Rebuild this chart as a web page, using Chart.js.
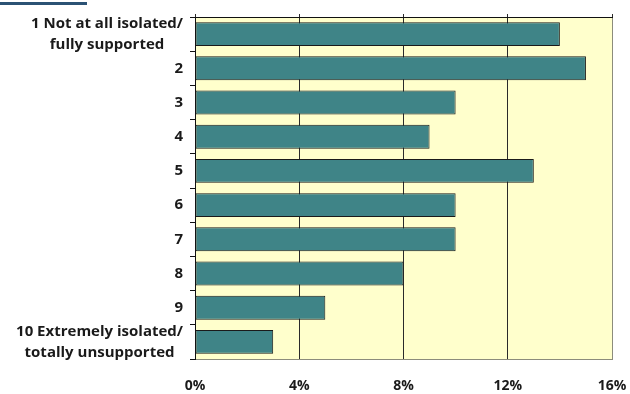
<!DOCTYPE html>
<html>
<head>
<meta charset="utf-8">
<script src="https://cdn.jsdelivr.net/npm/chart.js@4/dist/chart.umd.min.js"></script>
<style>
  html, body { margin: 0; padding: 0; background: #fff; }
  #wrap { position: relative; width: 630px; height: 394px; }
  #rule { position: absolute; left: 0; top: 2px; width: 87px; height: 3px; background: #2b5274; }
</style>
</head>
<body>
<div id="wrap">
  <div id="rule"></div>
  <canvas id="c" width="630" height="394"></canvas>
</div>
<script>
// Scale points: 1 = not isolated ... 10 = extremely isolated
const categories = [
  ["1 Not at all isolated/", "fully supported"],
  ["2"], ["3"], ["4"], ["5"], ["6"], ["7"], ["8"], ["9"],
  ["10 Extremely isolated/", "totally unsupported"]
];
const shares = [14, 15, 10, 9, 13, 10, 10, 8, 5, 3];   // % of respondents
const xTicks = [0, 4, 8, 12, 16];

const FONT = "'Open Sans', Lato, sans-serif";
const BAR = "#3f8487";
const PLOT_BG = "#ffffcc";

// Yellow plot background behind the grid.
const plotBg = {
  id: "plotBg",
  beforeDraw(chart) {
    const { ctx, chartArea: a } = chart;
    ctx.save();
    ctx.fillStyle = PLOT_BG;
    ctx.fillRect(a.left, a.top, a.right - a.left, a.bottom - a.top);
    ctx.restore();
  }
};

// Category labels: each block right-aligned to the axis, its lines centred within it.
const catLabels = {
  id: "catLabels",
  afterDraw(chart) {
    const { ctx } = chart;
    const y = chart.scales.y;
    const lineH = 21;
    const right = y.right - 12;
    ctx.save();
    ctx.font = "bold 15px " + FONT;
    ctx.fillStyle = "#1a1a1a";
    ctx.textAlign = "center";
    ctx.textBaseline = "middle";
    categories.forEach((lines, i) => {
      const cy = y.getPixelForTick(i);
      const w = Math.max(...lines.map(l => ctx.measureText(l).width));
      const cx = right - w / 2;
      const y0 = cy - (lines.length - 1) * lineH / 2;
      lines.forEach((l, j) => ctx.fillText(l, cx, y0 + j * lineH));
    });
    ctx.restore();
  }
};

new Chart(document.getElementById("c"), {
  type: "bar",
  data: {
    labels: categories,
    datasets: [{
      data: shares,
      backgroundColor: BAR,
      borderColor: "#1a1a1a",
      borderWidth: 1,
      borderSkipped: false,
      categoryPercentage: 1,
      barPercentage: 0.7
    }]
  },
  options: {
    indexAxis: "y",
    responsive: false,
    animation: false,
    layout: { padding: { left: 0, right: 18, top: 0, bottom: 0 } },
    plugins: { legend: { display: false }, tooltip: { enabled: false } },
    scales: {
      x: {
        position: "bottom",
        min: 0, max: 16,
        afterBuildTicks: s => { s.ticks = xTicks.map(v => ({ value: v })); },
        afterFit: s => { s.height = 35; },
        ticks: {
          callback: v => v + "%",
          color: "#1a1a1a",
          font: { family: FONT, size: 14, weight: "bold" },
          padding: 0,
          maxRotation: 0
        },
        grid: {
          // invisible tick marks act as the gap between axis and labels
          tickLength: 19,
          tickColor: "rgba(0,0,0,0)",
          color: c => c.tick && c.tick.value === 16 ? "#8c8c7c" : "#2a2a2a",
          lineWidth: 1
        },
        border: { color: "#8c8c7c", width: 1 }
      },
      x2: {
        position: "top",
        min: 0, max: 16,
        afterBuildTicks: s => { s.ticks = xTicks.map(v => ({ value: v })); },
        afterFit: s => { s.height = 17; },
        ticks: { display: false },
        grid: { drawOnChartArea: false, tickLength: 3, color: "#2a2a2a" },
        border: { color: "#111", width: 1 }
      },
      y: {
        afterFit: s => { s.width = 195; },
        ticks: { display: false },
        grid: { drawOnChartArea: false, offset: true, tickLength: 5, color: "#111" },
        border: { color: "#111", width: 1 }
      }
    }
  },
  plugins: [plotBg, catLabels]
});
</script>
</body>
</html>
